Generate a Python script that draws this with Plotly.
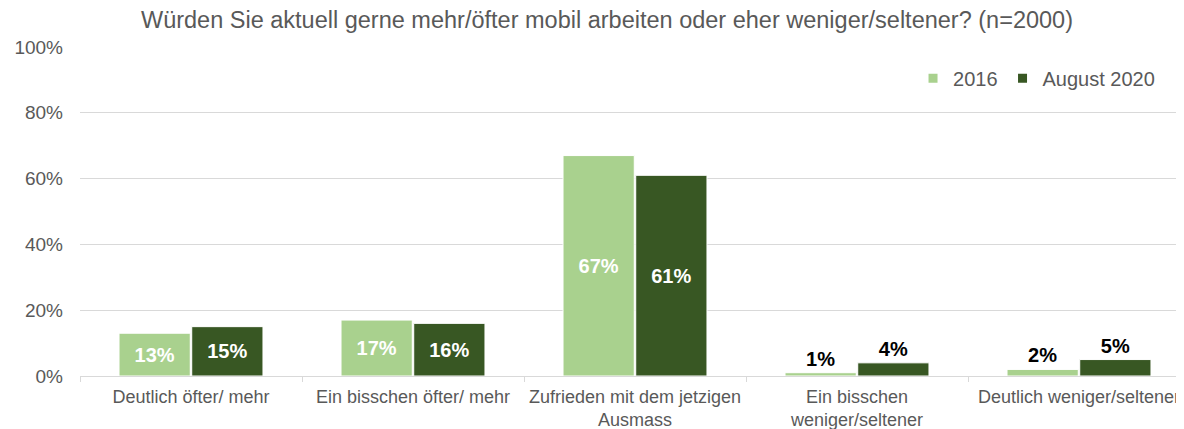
import plotly.graph_objects as go

categories = ["Deutlich öfter/ mehr", "Ein bisschen öfter/ mehr",
              "Zufrieden mit dem jetzigen<br>Ausmass", "Ein bisschen<br>weniger/seltener",
              "Deutlich weniger/seltener"]
series_names = ["2016", "August 2020"]
values_2016 = [13, 17, 67, 1, 2]
values_2020 = [15, 16, 61, 4, 5]
y_ticks = [0, 20, 40, 60, 80, 100]
y_tick_labels = ["0%", "20%", "40%", "60%", "80%", "100%"]

colors = ["#A9D18E", "#385723"]
FONT = "Arial, Liberation Sans, sans-serif"
GREY = "#595959"

def label_colors(vals):
    return ["white" if v >= 10 else "black" for v in vals]

def positions(vals):
    return ["inside" if v >= 10 else "outside" for v in vals]

fig = go.Figure()
for name, vals, col in zip(series_names, [values_2016, values_2020], colors):
    fig.add_trace(go.Bar(
        x=categories, y=vals, name=name, showlegend=False,
        marker=dict(color=col, line=dict(color="white", width=1)),
        text=[f"{v}%" for v in vals],
        textposition=positions(vals),
        insidetextanchor="middle",
        textfont=dict(family=FONT, size=20, color=label_colors(vals), weight="bold"),
        outsidetextfont=dict(family=FONT, size=20, color="black", weight="bold"),
        insidetextfont=dict(family=FONT, size=20, color="white", weight="bold"),
        cliponaxis=False,
    ))
    # legend entry with small square marker
    fig.add_trace(go.Scatter(
        x=[categories[0]], y=[None], name=name, mode="markers",
        marker=dict(symbol="square", size=9, color=col), showlegend=True,
    ))

fig.update_layout(
    width=1184, height=429,
    margin=dict(l=72, r=2, t=39, b=61, autoexpand=False),
    paper_bgcolor="white", plot_bgcolor="white",
    barmode="group", bargap=0.345, bargroupgap=0.02,
    title=dict(text="Würden Sie aktuell gerne mehr/öfter mobil arbeiten oder eher weniger/seltener? (n=2000)",
               x=(607 - 8) / 1184, xanchor="center", y=1 - 12 / 429, yanchor="middle",
               font=dict(family=FONT, size=23.5, color=GREY)),
    font=dict(family=FONT, color=GREY),
    legend=dict(orientation="h", x=0.973, xanchor="right", y=0.905, yanchor="middle",
                font=dict(family=FONT, size=20, color=GREY),
                bgcolor="rgba(0,0,0,0)", itemwidth=30, traceorder="normal"),
    xaxis=dict(type="category", showline=True, linecolor="#d9d9d9", linewidth=1,
               ticks="outside", tickson="boundaries", ticklen=5, tickcolor="#d9d9d9",
               tickangle=0, automargin=False, ticklabelstandoff=4,
               tickfont=dict(family=FONT, size=18, color=GREY), showgrid=False),
    yaxis=dict(range=[0, 100], tickvals=y_ticks, ticktext=y_tick_labels, showgrid=True,
               gridcolor="#d9d9d9", gridwidth=1, zeroline=False, showline=False,
               automargin=False,
               tickfont=dict(family=FONT, size=19, color=GREY),
               ticklabelstandoff=16),
)

fig.write_html("out.html")
